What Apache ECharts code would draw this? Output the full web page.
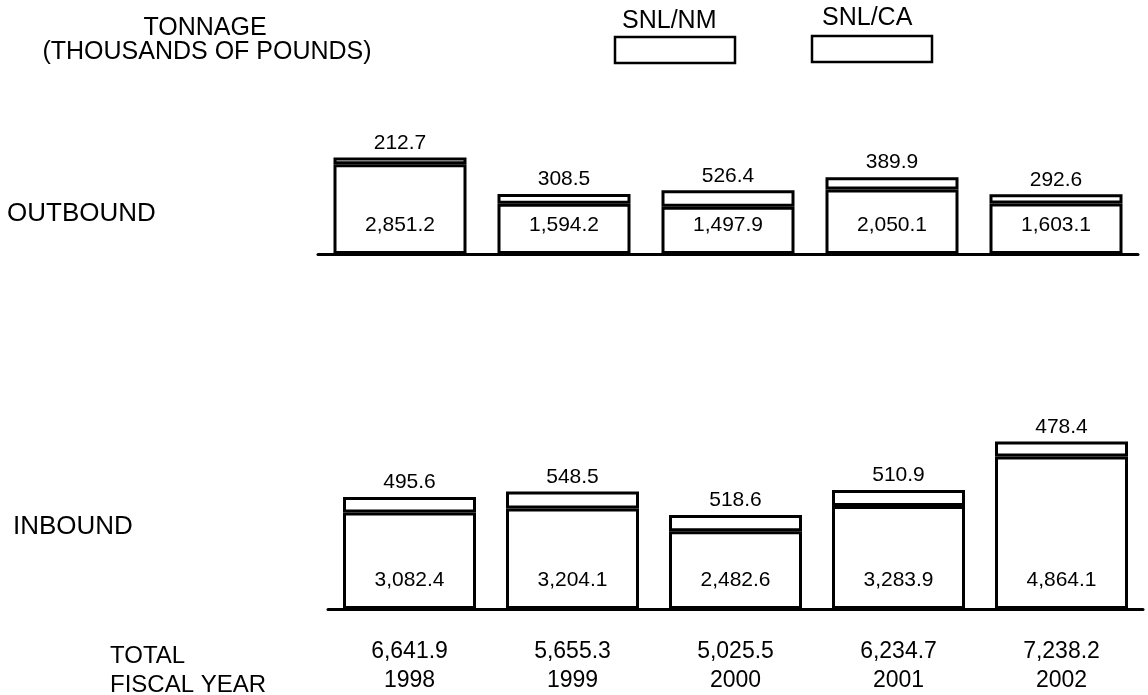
<!DOCTYPE html>
<html>
<head>
<meta charset="utf-8">
<script src="https://cdn.jsdelivr.net/npm/echarts@6/dist/echarts.min.js"></script>
<style>
  html, body { margin: 0; padding: 0; background: #fff; }
  #chart { width: 1148px; height: 695px; }
</style>
</head>
<body>
<div id="chart"></div>
<script>
// fiscal years
var years = ['1998', '1999', '2000', '2001', '2002'];
// outbound tonnage (thousands of pounds)
var outboundNM = [2851.2, 1594.2, 1497.9, 2050.1, 1603.1];
var outboundCA = [212.7, 308.5, 526.4, 389.9, 292.6];
// inbound tonnage
var inboundNM = [3082.4, 3204.1, 2482.6, 3283.9, 4864.1];
var inboundCA = [495.6, 548.5, 518.6, 510.9, 478.4];
// totals printed under each year
var totals = [6641.9, 5655.3, 5025.5, 6234.7, 7238.2];

var FONT = '"Liberation Sans", Arial, sans-serif';

function fmt(v) {
  var s = v.toFixed(1).split('.');
  return s[0].replace(/\B(?=(\d{3})+(?!\d))/g, ',') + '.' + s[1];
}

var barStyle = { color: '#fff', borderColor: '#000', borderWidth: 3 };
var lblBase = { show: true, color: '#000', fontSize: 21, fontFamily: FONT };

function bars(name, data, idx, stack, pos) {
  return {
    name: name,
    type: 'bar',
    xAxisIndex: idx,
    yAxisIndex: idx,
    stack: stack,
    data: data,
    barWidth: 133,
    itemStyle: barStyle,
    label: Object.assign({}, lblBase, pos === 'top'
      ? { position: 'top', distance: 4 }
      : { position: 'insideBottom', distance: 18 }, {
      formatter: function (p) { return fmt(p.value); }
    }),
    silent: true
  };
}

var chart = echarts.init(document.getElementById('chart'));
var option = {
  backgroundColor: '#fff',
  animation: false,
  grid: [
    { left: 318, right: 10, top: 65, height: 189 },
    { left: 328, right: 5, top: 421, height: 189 }
  ],
  xAxis: [
    {
      gridIndex: 0, type: 'category', data: years,
      axisLine: { lineStyle: { color: '#000', width: 3 } },
      axisTick: { show: false }, axisLabel: { show: false }
    },
    {
      gridIndex: 1, type: 'category', data: years,
      axisLine: { lineStyle: { color: '#000', width: 3 } },
      axisTick: { show: false },
      axisLabel: {
        color: '#000', fontSize: 23, fontFamily: FONT, lineHeight: 29, margin: 28,
        formatter: function (v, i) { return fmt(totals[i]) + '\n' + v; }
      }
    }
  ],
  yAxis: [
    { gridIndex: 0, type: 'value', min: 0, max: 6000, show: false },
    { gridIndex: 1, type: 'value', min: 0, max: 6000, show: false }
  ],
  series: [
    bars('SNL/NM', outboundNM, 0, 'out', 'inside'),
    bars('SNL/CA', outboundCA, 0, 'out', 'top'),
    bars('SNL/NM', inboundNM, 1, 'in', 'inside'),
    bars('SNL/CA', inboundCA, 1, 'in', 'top')
  ],
  graphic: [
    { type: 'text', x: 205, y: 16, style: { text: 'TONNAGE', font: '25px ' + FONT, fill: '#000', align: 'center' } },
    { type: 'text', x: 207, y: 40, style: { text: '(THOUSANDS OF POUNDS)', font: '25px ' + FONT, fill: '#000', align: 'center' } },
    { type: 'text', x: 622, y: 9, style: { text: 'SNL/NM', font: '25px ' + FONT, fill: '#000' } },
    { type: 'rect', shape: { x: 615, y: 37, width: 120, height: 26 }, style: { fill: '#fff', stroke: '#000', lineWidth: 2.5 } },
    { type: 'text', x: 822, y: 6, style: { text: 'SNL/CA', font: '25px ' + FONT, fill: '#000' } },
    { type: 'rect', shape: { x: 812, y: 36, width: 120, height: 26 }, style: { fill: '#fff', stroke: '#000', lineWidth: 2.5 } },
    { type: 'text', x: 7, y: 201, style: { text: 'OUTBOUND', font: '26px ' + FONT, fill: '#000' } },
    { type: 'text', x: 13, y: 514, style: { text: 'INBOUND', font: '26px ' + FONT, fill: '#000' } },
    { type: 'text', x: 110, y: 644, style: { text: 'TOTAL', font: '24px ' + FONT, fill: '#000' } },
    { type: 'text', x: 110, y: 673, style: { text: 'FISCAL YEAR', font: '24px ' + FONT, fill: '#000' } }
  ]
};
chart.setOption(option);
</script>
</body>
</html>
